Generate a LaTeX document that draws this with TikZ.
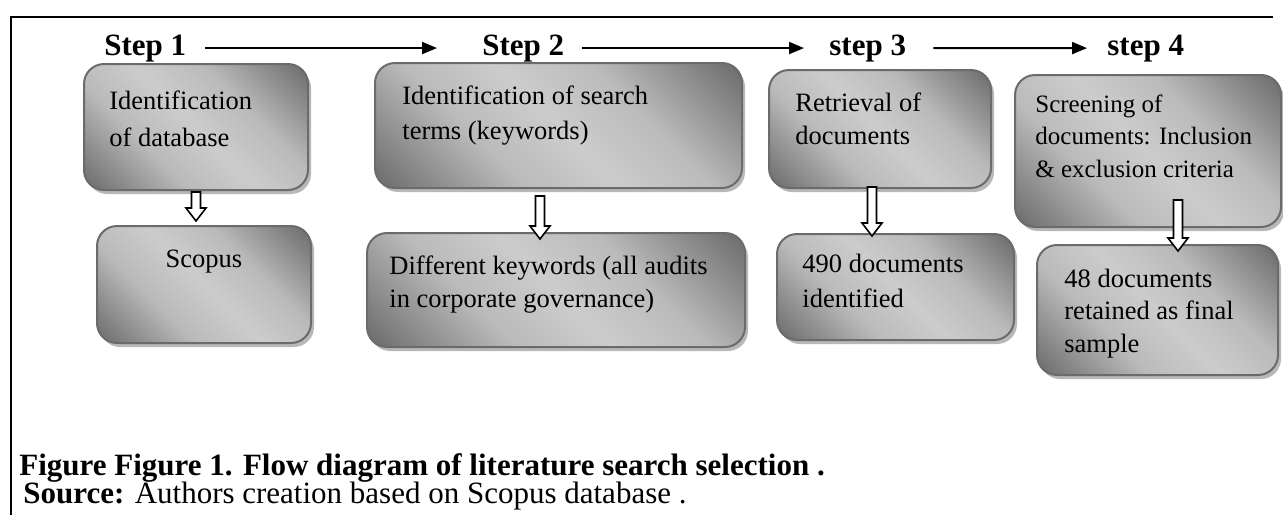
\documentclass[tikz,border=0pt]{standalone}
\usepackage{fontspec}
\setmainfont{Liberation Serif}
\usetikzlibrary{calc}
\usetikzlibrary{arrows.meta}
\usetikzlibrary{shadows}

\pgfdeclarehorizontalshading{boxgrad}{100bp}{color(0bp)=(black!62); color(15bp)=(black!58); color(36bp)=(black!27); color(50bp)=(black!20); color(64bp)=(black!27); color(85bp)=(black!58); color(100bp)=(black!62)}

% hollow down arrow: start, end, tip shift
\newcommand{\hollowarrow}[3]{%
\draw[hollow] let \p1=(#1), \p2=(#2) in
  ({\x1-2.25pt},\y1) -- ({\x1+2.25pt},\y1) -- ({\x1+2.25pt},{\y2+(#3)+6.5pt})
  -- ({\x1+5pt},{\y2+(#3)+6.5pt}) -- ({\x1},{\y2+(#3)}) -- ({\x1-5pt},{\y2+(#3)+6.5pt})
  -- ({\x1-2.25pt},{\y2+(#3)+6.5pt}) -- cycle;}

\begin{document}
\begin{tikzpicture}[x=0.5pt,y=-0.5pt,
  stepbox/.style={draw=black!58, line width=1pt, rounded corners=10pt, shade, shading=boxgrad, shading angle=45,
    drop shadow={shadow xshift=1.5pt, shadow yshift=-2pt, fill=black!28, opacity=1}, inner sep=0pt},
  boxtext/.style={font=\fontsize{13.25}{17.25}\selectfont, align=left, inner sep=0pt, anchor=base west},
  steplabel/.style={font=\fontsize{15.5}{18}\selectfont\bfseries, inner sep=0pt, anchor=base west},
  steparrow/.style={line width=1pt, -{Triangle[length=7.5pt,width=6pt]}},
  hollow/.style={draw=black, line width=0.8pt, fill=white}]

\useasboundingbox (0,0) rectangle (1283,515);

% frame
\draw[line width=1pt] (11,515) -- (11,17) -- (1273,17);

% steps
\node[steplabel] (s1) at (104,55) {Step 1};
\node[steplabel] (s2) at (482,55) {Step 2};
\node[steplabel] (s3) at (829,55) {step 3};
\node[steplabel] (s4) at (1107,55) {step 4};
\draw[steparrow, shorten <=9pt, shorten >=22.5pt] (s1.east) -- (s2.west);
\draw[steparrow, shorten <=8.5pt, shorten >=12.5pt] (s2.east) -- (s3.west);
\draw[steparrow, shorten <=13.5pt, shorten >=10pt] (s3.east) -- (s4.west);

% step 1
\node[stepbox, minimum width=112pt, minimum height=63pt] (b1) at (196,127) {};
\node[stepbox, minimum width=107pt, minimum height=58.5pt] (b1b) at (204,284.5) {};
\node[boxtext, font=\fontsize{13.25}{18.5}\selectfont] (t1) at ($(b1.north west)+(26,83)$) {Identification\\of database};
\node[boxtext, anchor=base] (t1b) at ($(b1b.north)+(0,42)$) {Scopus};

% step 2
\node[stepbox, minimum width=183.5pt, minimum height=62.5pt] (b2) at (558.5,125.5) {};
\node[stepbox, minimum width=189pt, minimum height=57pt] (b2b) at (556,290) {};
\node[boxtext] (t2) at ($(b2.north west)+(28,77)$) {Identification of search\\terms (keywords)};
\node[boxtext, font=\fontsize{13.25}{16.5}\selectfont] (t2b) at ($(b2b.north west)+(23,75)$) {Different keywords (all audits\\in corporate governance)};

% step 3
\node[stepbox, minimum width=111pt, minimum height=59pt] (b3) at (880,129) {};
\node[stepbox, minimum width=118.5pt, minimum height=53pt] (b3b) at (895.5,287) {};
\node[boxtext, font=\fontsize{13.25}{16.5}\selectfont] (t3) at ($(b3.north west)+(27,75)$) {Retrieval of\\documents};
\node[boxtext] (t3b) at ($(b3b.north west)+(26,74)$) {490 documents\\identified};

% step 4
\node[stepbox, minimum width=133pt, minimum height=76pt] (b4) at (1148,151) {};
\node[stepbox, minimum width=120.5pt, minimum height=65pt] (b4b) at (1157.5,310) {};
\node[boxtext, font=\fontsize{12.5}{16.25}\selectfont] (t4) at ($(b4.north west)+(21,103)$) {Screening of\\documents: Inclusion\\\& exclusion criteria};
\node[boxtext, font=\fontsize{13.25}{16.25}\selectfont] (t4b) at ($(b4b.north west)+(28,108)$) {48 documents\\retained as final\\sample};

% hollow arrows
\hollowarrow{[yshift=-0.5pt]b1.south}{b1b.north}{2pt}
\hollowarrow{[xshift=-9.25pt,yshift=-3.5pt]b2.south}{b2b.north}{-3.5pt}
\hollowarrow{[xshift=-4pt,yshift=1pt]b3.south}{b3b.north}{-1.5pt}
\hollowarrow{[xshift=15pt,yshift=14pt]b4.south}{b4b.north}{-3.5pt}

% caption
\node[anchor=base west, inner sep=0pt, font=\fontsize{15.5}{19}\selectfont\bfseries] (cap) at (19,475) {Figure Figure 1. Flow diagram of literature search selection .};
\node[anchor=base west, inner sep=0pt, font=\fontsize{15.5}{19}\selectfont] (src) at (23,503) {\textbf{Source:} Authors creation based on Scopus database .};

\end{tikzpicture}
\end{document}
